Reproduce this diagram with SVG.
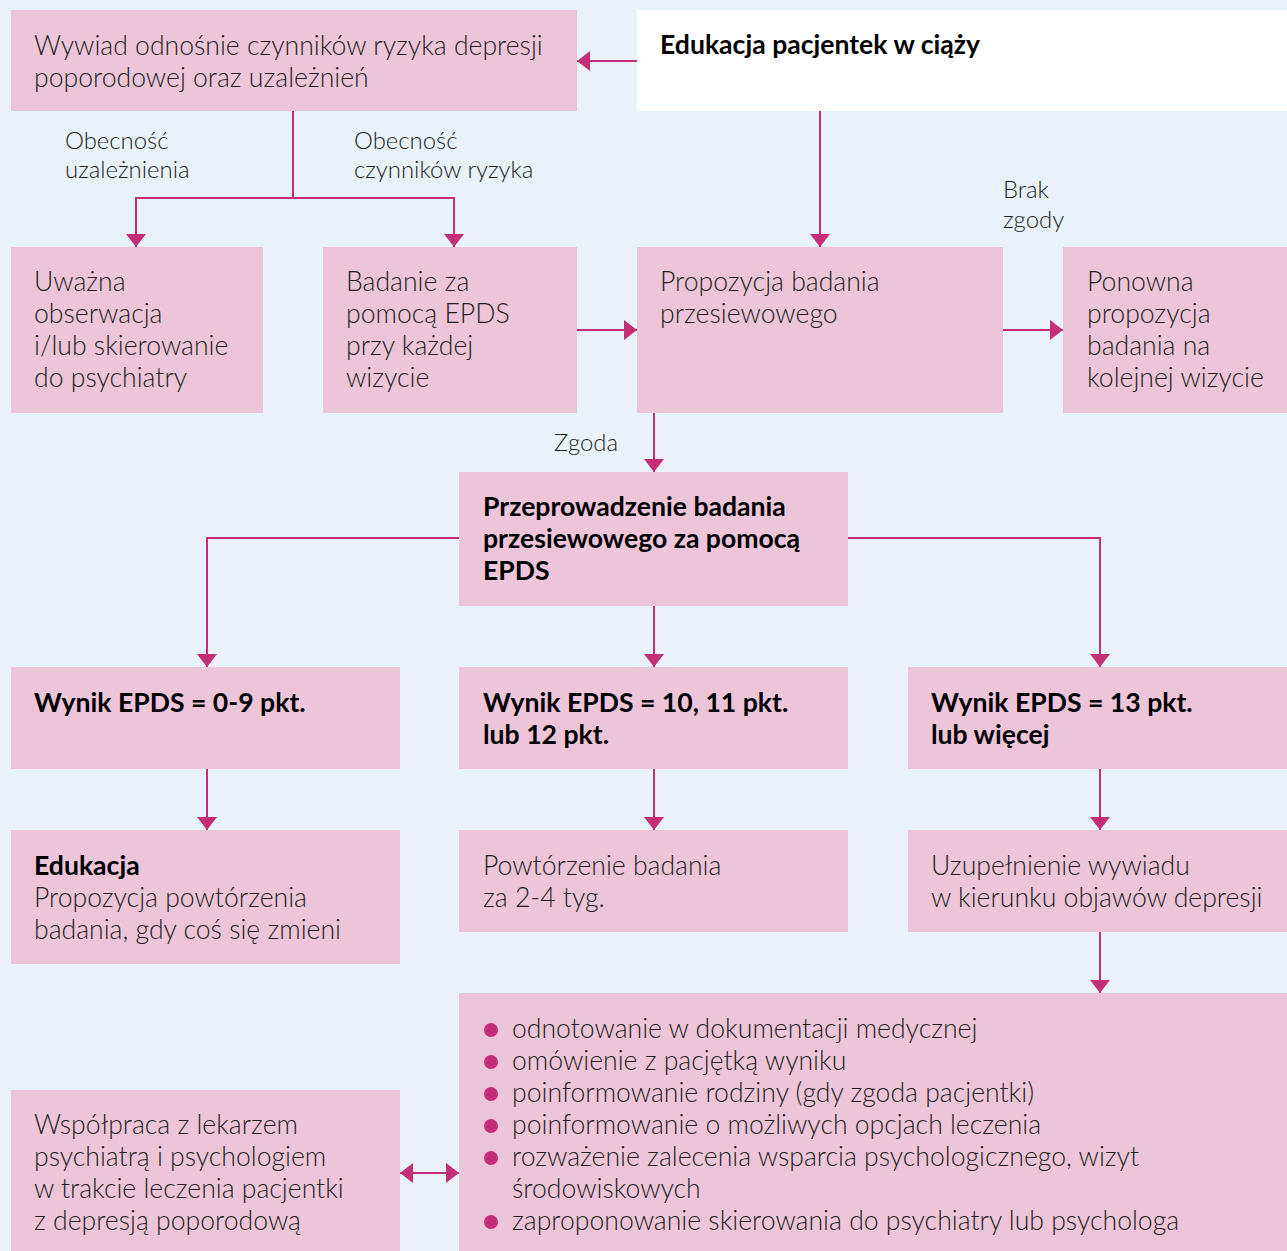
<svg xmlns="http://www.w3.org/2000/svg" width="1287" height="1251" viewBox="0 0 1287 1251">
<defs>
<style>
.bg{fill:#e9f1fb}
.box{fill:#edc5d9}
.wbox{fill:#ffffff}
.t{font-family:Lato,"Liberation Sans",sans-serif;font-weight:300;font-size:26.6px;fill:#231f20}
.b{font-family:Lato,"Liberation Sans",sans-serif;font-weight:700;font-size:26.6px;fill:#000000}
.lbl{font-family:Lato,"Liberation Sans",sans-serif;font-weight:300;font-size:23.9px;fill:#231f20}
.c{fill:none;stroke:#c42e78;stroke-width:2}
.dot{fill:#c42e78}
</style>
<marker id="ah" viewBox="0 0 13 20" refX="13" refY="10" markerWidth="13" markerHeight="20" markerUnits="userSpaceOnUse" orient="auto-start-reverse">
<path d="M0,0 L13,10 L0,20 z" fill="#c42e78"/>
</marker>
</defs>
<rect class="bg" x="0" y="0" width="1287" height="1251"/>

<g id="connectors">
<path class="c" d="M637,61 H577" marker-end="url(#ah)"/>
<path class="c" d="M293,111 V198 H136 V247" marker-end="url(#ah)"/>
<path class="c" d="M293,198 H454 V247" marker-end="url(#ah)"/>
<path class="c" d="M820,111 V247" marker-end="url(#ah)"/>
<path class="c" d="M577,330 H637" marker-end="url(#ah)"/>
<path class="c" d="M1003,330 H1063" marker-end="url(#ah)"/>
<path class="c" d="M654,413 V472" marker-end="url(#ah)"/>
<path class="c" d="M459,538 H207 V667" marker-end="url(#ah)"/>
<path class="c" d="M848,538 H1100 V667" marker-end="url(#ah)"/>
<path class="c" d="M654,606 V667" marker-end="url(#ah)"/>
<path class="c" d="M207,769 V830" marker-end="url(#ah)"/>
<path class="c" d="M654,769 V830" marker-end="url(#ah)"/>
<path class="c" d="M1100,769 V830" marker-end="url(#ah)"/>
<path class="c" d="M1100,932 V993" marker-end="url(#ah)"/>
<path class="c" d="M400,1173 H459" marker-start="url(#ah)" marker-end="url(#ah)"/>
<text class="lbl" x="65" y="149">Obecność</text>
<text class="lbl" x="65" y="178">uzależnienia</text>
<text class="lbl" x="354" y="149">Obecność</text>
<text class="lbl" x="354" y="178">czynników ryzyka</text>
<text class="lbl" x="1003" y="198">Brak</text>
<text class="lbl" x="1003" y="228">zgody</text>
<text class="lbl" x="554" y="451">Zgoda</text>
</g>

<g id="n-wywiad">
<rect class="box" x="11" y="10" width="566" height="101"/>
<text class="t" x="34" y="55">Wywiad odnośnie czynników ryzyka depresji</text>
<text class="t" x="34" y="87">poporodowej oraz uzależnień</text>
</g>
<g id="n-edukacja-ciaza">
<rect class="wbox" x="637" y="10" width="650" height="101"/>
<text class="b" x="660" y="54">Edukacja pacjentek w ciąży</text>
</g>
<g id="n-obserwacja">
<rect class="box" x="11" y="247" width="252" height="166"/>
<text class="t" x="34" y="291">Uważna</text>
<text class="t" x="34" y="323">obserwacja</text>
<text class="t" x="34" y="355">i/lub skierowanie</text>
<text class="t" x="34" y="387">do psychiatry</text>
</g>
<g id="n-badanie-epds">
<rect class="box" x="323" y="247" width="254" height="166"/>
<text class="t" x="346" y="291">Badanie za</text>
<text class="t" x="346" y="323">pomocą EPDS</text>
<text class="t" x="346" y="355">przy każdej</text>
<text class="t" x="346" y="387">wizycie</text>
</g>
<g id="n-propozycja">
<rect class="box" x="637" y="247" width="366" height="166"/>
<text class="t" x="660" y="291">Propozycja badania</text>
<text class="t" x="660" y="323">przesiewowego</text>
</g>
<g id="n-ponowna">
<rect class="box" x="1063" y="247" width="224" height="166"/>
<text class="t" x="1087" y="291">Ponowna</text>
<text class="t" x="1087" y="323">propozycja</text>
<text class="t" x="1087" y="355">badania na</text>
<text class="t" x="1087" y="387">kolejnej wizycie</text>
</g>
<g id="n-przeprowadzenie">
<rect class="box" x="459" y="472" width="389" height="134"/>
<text class="b" x="483" y="516">Przeprowadzenie badania</text>
<text class="b" x="483" y="548">przesiewowego za pomocą</text>
<text class="b" x="483" y="580">EPDS</text>
</g>
<g id="n-wynik-0-9">
<rect class="box" x="11" y="667" width="389" height="102"/>
<text class="b" x="34" y="712">Wynik EPDS = 0-9 pkt.</text>
</g>
<g id="n-wynik-10-12">
<rect class="box" x="459" y="667" width="389" height="102"/>
<text class="b" x="483" y="712">Wynik EPDS = 10, 11 pkt.</text>
<text class="b" x="483" y="744">lub 12 pkt.</text>
</g>
<g id="n-wynik-13">
<rect class="box" x="908" y="667" width="379" height="102"/>
<text class="b" x="931" y="712">Wynik EPDS = 13 pkt.</text>
<text class="b" x="931" y="744">lub więcej</text>
</g>
<g id="n-edukacja">
<rect class="box" x="11" y="830" width="389" height="134"/>
<text class="b" x="34" y="875">Edukacja</text>
<text class="t" x="34" y="907">Propozycja powtórzenia</text>
<text class="t" x="34" y="939">badania, gdy coś się zmieni</text>
</g>
<g id="n-powtorzenie">
<rect class="box" x="459" y="830" width="389" height="102"/>
<text class="t" x="483" y="875">Powtórzenie badania</text>
<text class="t" x="483" y="907">za 2-4 tyg.</text>
</g>
<g id="n-uzupelnienie">
<rect class="box" x="908" y="830" width="379" height="102"/>
<text class="t" x="931" y="875">Uzupełnienie wywiadu</text>
<text class="t" x="931" y="907">w kierunku objawów depresji</text>
</g>
<g id="n-dzialania">
<rect class="box" x="459" y="993" width="828" height="258"/>
<circle class="dot" cx="491" cy="1030" r="7"/>
<circle class="dot" cx="491" cy="1062" r="7"/>
<circle class="dot" cx="491" cy="1094" r="7"/>
<circle class="dot" cx="491" cy="1126" r="7"/>
<circle class="dot" cx="491" cy="1158" r="7"/>
<circle class="dot" cx="491" cy="1222" r="7"/>
<text class="t" x="512" y="1038">odnotowanie w dokumentacji medycznej</text>
<text class="t" x="512" y="1070">omówienie z pacjętką wyniku</text>
<text class="t" x="512" y="1102">poinformowanie rodziny (gdy zgoda pacjentki)</text>
<text class="t" x="512" y="1134">poinformowanie o możliwych opcjach leczenia</text>
<text class="t" x="512" y="1166">rozważenie zalecenia wsparcia psychologicznego, wizyt</text>
<text class="t" x="512" y="1198">środowiskowych</text>
<text class="t" x="512" y="1230">zaproponowanie skierowania do psychiatry lub psychologa</text>
</g>
<g id="n-wspolpraca">
<rect class="box" x="11" y="1090" width="389" height="161"/>
<text class="t" x="34" y="1134">Współpraca z lekarzem</text>
<text class="t" x="34" y="1166">psychiatrą i psychologiem</text>
<text class="t" x="34" y="1198">w trakcie leczenia pacjentki</text>
<text class="t" x="34" y="1230">z depresją poporodową</text>
</g>
</svg>
